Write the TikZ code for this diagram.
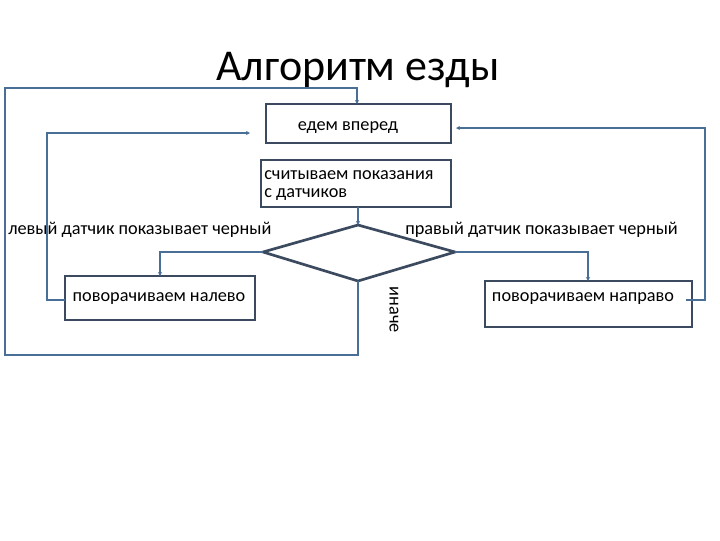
\documentclass[tikz,border=0pt]{standalone}
\usepackage{fontspec}
\setmainfont{Carlito}
\usetikzlibrary{arrows.meta}
\definecolor{ln}{HTML}{4A6F96}
\definecolor{bx}{HTML}{3B4A5E}
\begin{document}
\begin{tikzpicture}[x=0.75pt,y=-0.75pt,
  box/.style={draw=bx,line width=1.3pt,inner sep=0},
  con/.style={draw=ln,line width=1pt},
  arr/.style={con,-{Stealth[length=3pt,width=3pt]}},
  lbl/.style={font=\fontsize{13.7}{16}\selectfont,inner sep=0}]
\useasboundingbox (0,0) rectangle (720,540);
\node[font=\fontsize{33}{38}\selectfont] (title) at (358,70) {Алгоритм езды};
\draw[box] (266,104) rectangle (451,143);
\node[lbl] (ed) at (348,128) {едем вперед};
\coordinate (edtop) at (357,104);
\draw[box] (261,160) rectangle (451,207);
\node[lbl,align=left,anchor=north west] (sens) at (264,170) {считываем показания\\[-2pt]с датчиков};
\coordinate (sb) at (358,207);
\draw[box,line width=2pt] (358,225) coordinate (dt) -- (455,252) coordinate (dr) -- (358,281) coordinate (db) -- (263,252) coordinate (dl) -- cycle;
\node[lbl,anchor=west] (ll) at (8,230) {левый датчик показывает черный};
\node[lbl,anchor=west] (rl) at (405,230) {правый датчик показывает черный};
\draw[box] (65,276) rectangle (255,320);
\node[lbl] (lt) at (159,299) {поворачиваем налево};
\draw[box] (485,281) rectangle (692,327);
\node[lbl] (rt) at (583,299) {поворачиваем направо};
\node[lbl,rotate=-90] (else) at (394,310) {иначе};
\coordinate (lbt) at (160,276);
\coordinate (rbt) at (588,281);
\coordinate (lbl0) at (65,300);
\coordinate (rbr) at (686,300);
\coordinate (eL) at (250,133);
\coordinate (eR) at (456,128);
\draw[arr] (sb) -- (dt);
\draw[arr] (dl) -| (lbt);
\draw[arr] (dr) -| (rbt);
\draw[arr] (db) -- (358,355) -- (5,355) -- (5,88) -| (edtop);
\draw[arr] (lbl0) -- (47,300) |- (eL);
\draw[arr] (rbr) -- (705,300) |- (eR);
\end{tikzpicture}
\end{document}
